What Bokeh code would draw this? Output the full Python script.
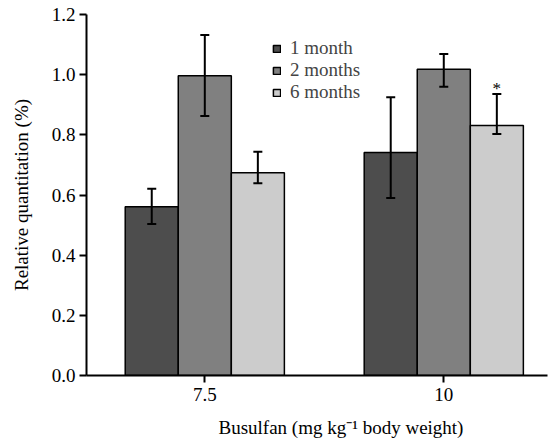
from bokeh.plotting import figure
from bokeh.models import (ColumnDataSource, Range1d, FixedTicker, PrintfTickFormatter,
                          Whisker, TeeHead, Legend, Title)
from bokeh.embed import file_html
from bokeh.resources import INLINE
from bokeh.core.properties import value

# ---- data ----
categories = ["7.5", "10"]
series = ["1 month", "2 months", "6 months"]
m1_mean = [0.561, 0.741]
m1_lower = [0.504, 0.590]
m1_upper = [0.621, 0.925]
m2_mean = [0.996, 1.018]
m2_lower = [0.863, 0.960]
m2_upper = [1.132, 1.069]
m6_mean = [0.674, 0.831]
m6_lower = [0.639, 0.803]
m6_upper = [0.744, 0.936]
y_ticks = [0.0, 0.2, 0.4, 0.6, 0.8, 1.0, 1.2]
significant = [(1, 2, "*")]  # (category index, series index, mark)
x_title = "Busulfan (mg kg\u207b\u00b9 body weight)"
y_title = "Relative quantitation (%)"

colors = ["#4d4d4d", "#808080", "#cccccc"]
means = [m1_mean, m2_mean, m6_mean]
lowers = [m1_lower, m2_lower, m6_lower]
uppers = [m1_upper, m2_upper, m6_upper]

FONT = "Liberation Serif"
FS = "19px"
bar_w = 0.222
offsets = [-bar_w, 0.0, bar_w]

p = figure(output_backend="svg", toolbar_location=None,
           frame_width=461, frame_height=361,
           min_border_left=86, min_border_right=6, min_border_top=14, min_border_bottom=4,
           x_range=Range1d(-0.495, 1.434), y_range=Range1d(0, 1.2))
p.outline_line_color = None
p.xgrid.visible = False
p.ygrid.visible = False
p.background_fill_color = "white"
p.border_fill_color = "white"

renderers = []
for i, s in enumerate(series):
    xs = [k + offsets[i] for k in range(len(categories))]
    src = ColumnDataSource(dict(x=xs, top=means[i], lo=lowers[i], hi=uppers[i]))
    r = p.vbar(x="x", top="top", width=bar_w, bottom=0, source=src,
               fill_color=colors[i], line_color="black", line_width=1.5)
    renderers.append((s, [r]))
    w = Whisker(base="x", upper="hi", lower="lo", source=src, dimension="height",
                line_color="black", line_width=2, level="overlay",
                upper_head=TeeHead(size=9, line_width=2, line_color="black"),
                lower_head=TeeHead(size=9, line_width=2, line_color="black"))
    p.add_layout(w)

# significance marks
sx = [k + offsets[j] for (k, j, _) in significant]
sy = [uppers[j][k] for (k, j, _) in significant]
st = [m for (_, _, m) in significant]
p.text(x=sx, y=sy, text=st, text_font=value(FONT), text_font_size="17px",
       text_align="center", text_baseline="alphabetic", y_offset=-5, text_color="#000000")

legend = Legend(items=renderers, location=(186, 272))
legend.border_line_alpha = 0
legend.background_fill_alpha = 0
legend.padding = 0
legend.margin = 0
legend.spacing = 0
legend.label_height = 21
legend.glyph_height = 9
legend.glyph_width = 9
legend.label_standoff = 9
legend.label_text_font = FONT
legend.label_text_font_size = FS
legend.label_text_baseline = "middle"
p.add_layout(legend)

# axes
for ax in (p.xaxis[0], p.yaxis[0]):
    ax.axis_line_width = 2
    ax.major_tick_line_width = 2
    ax.major_tick_in = 0
    ax.major_tick_out = 7
    ax.minor_tick_line_color = None
    ax.major_label_text_font = FONT
    ax.major_label_text_font_size = FS
    ax.major_label_text_color = "black"
    ax.axis_label_text_font = FONT
    ax.axis_label_text_font_size = FS
    ax.axis_label_text_font_style = "normal"
    ax.axis_label_text_color = "black"

p.yaxis.ticker = FixedTicker(ticks=y_ticks)
p.yaxis.formatter = PrintfTickFormatter(format="%.1f")
p.yaxis.major_label_standoff = 4
p.yaxis.axis_label = y_title
p.yaxis.axis_label_standoff = 17

p.xaxis.ticker = FixedTicker(ticks=list(range(len(categories))))
p.xaxis.major_label_overrides = {i: c for i, c in enumerate(categories)}
p.xaxis.major_label_standoff = 5

# x axis title, placed slightly right of centre as in the original
xt = Title(text=x_title, align="left", offset=132, standoff=23,
           text_font=FONT, text_font_size=FS, text_font_style="normal", text_color="black")
p.add_layout(xt, "below")

open("out.html", "w").write(file_html(p, INLINE))
